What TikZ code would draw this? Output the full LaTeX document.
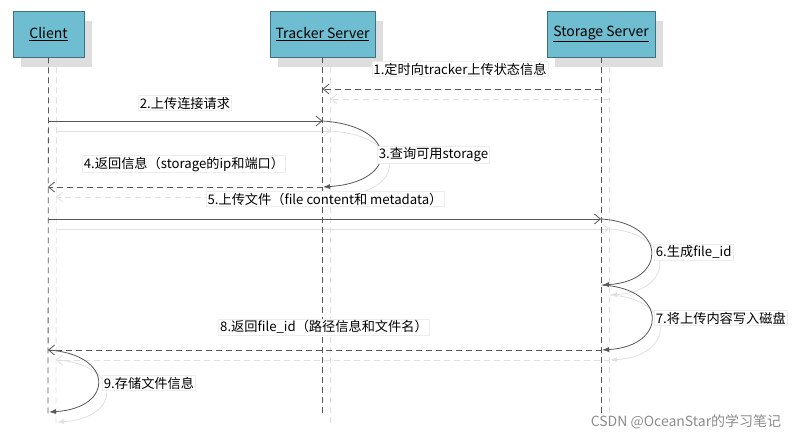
\documentclass[tikz,border=0pt]{standalone}
\usepackage{fontspec}
\setmainfont{Noto Sans CJK SC}
\usepackage{tikz}
\usetikzlibrary{arrows.meta, positioning, shadows}

\definecolor{boxfill}{HTML}{6EBDD0}
\definecolor{boxline}{HTML}{3E7080}

\tikzset{
  actor/.style={draw=boxline, fill=boxfill, line width=0.8pt, minimum height=46pt,
    font=\fontsize{14pt}{16pt}\selectfont,
    drop shadow={shadow xshift=8pt, shadow yshift=-10pt, fill=black!13, opacity=1}},
  note/.style={fill=white, draw=black!7, inner sep=1.5pt, font=\fontsize{13.2pt}{15pt}\selectfont},
  life/.style={dash pattern=on 6pt off 4pt},
  msg/.style={-{Straight Barb[length=6pt,width=10pt]}},
  ret/.style={msg, dash pattern=on 6pt off 4pt},
  selfcall/.style={-{Latex[length=7pt,width=5pt]}},
  ghost/.style={transform canvas={shift={(8pt,-10pt)}}, black!12},
  main/.style={black!66}
}

\begin{document}
\begin{tikzpicture}[x=1pt, y=-1pt, line width=0.8pt]
        \useasboundingbox (0,0) rectangle (801,439);
        % the three lifelines
        \node[actor, minimum width=71pt] (cli) at (48.5,34) {\underline{Client}};
        \node[actor, minimum width=105pt] (trk) at (322.5,34) {\underline{Tracker Server}};
        \node[actor, minimum width=108pt] (sto) at (601,34) {\underline{Storage Server}};
        \coordinate (ce) at (48,415);
        \coordinate (te) at (322.5,414);
        \coordinate (se) at (601,414);
        % message ends
        \coordinate (s1) at (601,89);   \coordinate (t1) at (322.5,89);
        \coordinate (c2) at (48,121);   \coordinate (t2) at (322.5,121);
        \coordinate (t3) at (323,187);  \coordinate (c4) at (48,187);
        \coordinate (c5) at (48,219);   \coordinate (s5) at (601,219);
        \coordinate (s6) at (602,285);  \coordinate (s7) at (602,350);
        \coordinate (c8) at (48,350);   \coordinate (c9) at (49,412);
        % faint copy first, then the real lines
        \foreach \pass in {ghost,main}{
          \begin{scope}[\pass]
            \draw[life] (cli.south) -- (ce);
            \draw[life] (trk.south) -- (te);
            \draw[life] (sto.south) -- (se);
            \draw[ret] (s1) -- (t1);
            \draw[msg] (c2) -- (t2);
            \draw[selfcall] (t2) .. controls +(77,5) and +(77,-5) .. (t3);
            \draw[ret] (t3) -- (c4);
            \draw[msg] (c5) -- (s5);
            \draw[selfcall] (s5) .. controls +(66,4) and +(66,-4) .. (s6);
            \draw[selfcall] (s6) .. controls +(66,4) and +(66,-4) .. (s7);
            \draw[ret] (s7) -- (c8);
            \draw[selfcall] (c8) .. controls +(66,4) and +(66,-4) .. (c9);
          \end{scope}
        }
        % labels
        \node[note] (n1) at (460,69) {1.定时向tracker上传状态信息};
        \node[note] (n2) at (185,103) {2.上传连接请求};
        \node[note, anchor=west] (n3) at (377,155) {3.查询可用storage};
        \node[note] (n4) at (184,164) {4.返回信息（storage的ip和端口）};
        \node[note] (n5) at (325,199) {5.上传文件（file content和 metadata）};
        \node[note, anchor=west] (n6) at (654,252) {6.生成file\_id};
        \node[note, anchor=west] (n7) at (654,318) {7.将上传内容写入磁盘};
        \node[note] (n8) at (324,327) {8.返回file\_id（路径信息和文件名）};
        \node[note, anchor=west] (n9) at (102,383) {9.存储文件信息};
        \node[text=black!45, font=\fontsize{14pt}{16pt}\selectfont] (mark) at (686,422) {CSDN @OceanStar的学习笔记};
    \end{tikzpicture}
\end{document}
